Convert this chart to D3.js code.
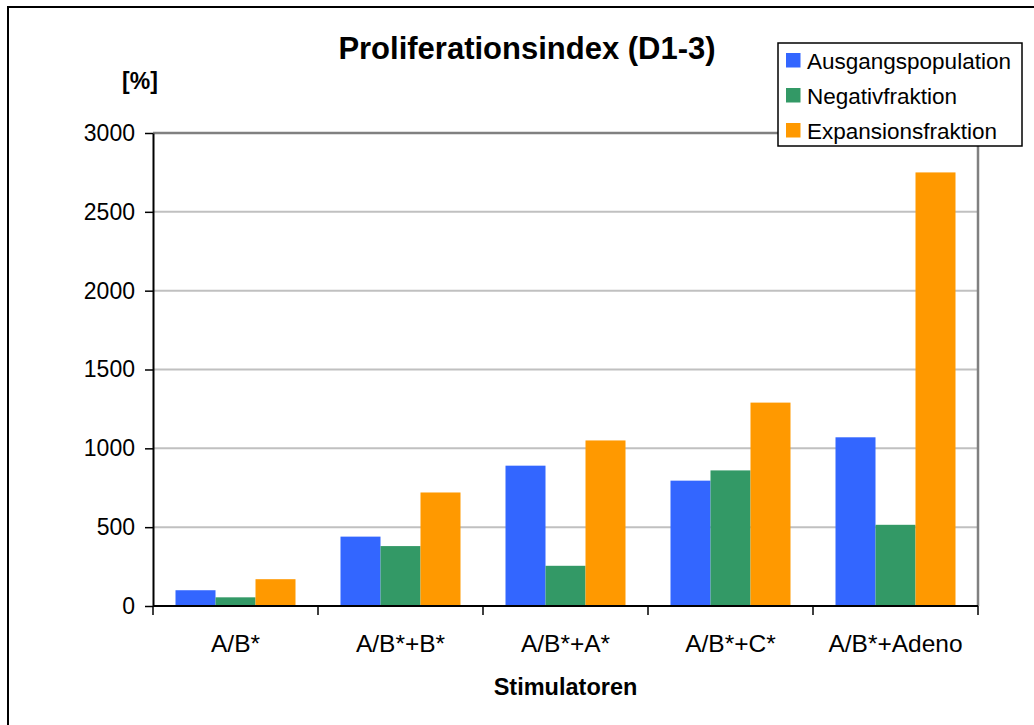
<!DOCTYPE html>
<meta charset="utf-8">
<script src="https://d3js.org/d3.v7.min.js"></script>
<style>
  body { margin: 0; background: #fff; }
  text { font-family: "Liberation Sans", Arial, sans-serif; fill: #000; }
</style>
<div id="my_dataviz"></div>
<script>

// data
var categories = ["A/B*", "A/B*+B*", "A/B*+A*", "A/B*+C*", "A/B*+Adeno"];
var seriesNames = ["Ausgangspopulation", "Negativfraktion", "Expansionsfraktion"];
var ausgangspopulation = [100, 440, 890, 795, 1070];
var negativfraktion = [55, 380, 255, 860, 515];
var expansionsfraktion = [170, 720, 1050, 1290, 2750];
var yTicks = [0, 500, 1000, 1500, 2000, 2500, 3000];
var colors = ["#3366FF", "#339966", "#FF9900"];

var series = [ausgangspopulation, negativfraktion, expansionsfraktion];

var W = 1034, H = 725;
var margin = {top: 133, right: 56, bottom: 119, left: 153},
    width = W - margin.left - margin.right,
    height = H - margin.top - margin.bottom;

var svg = d3.select("#my_dataviz")
  .append("svg")
    .attr("width", W)
    .attr("height", H);

// outer chart border (only left and top visible)
svg.append("rect")
  .attr("x", 8).attr("y", 7)
  .attr("width", W + 20).attr("height", H + 20)
  .attr("fill", "none")
  .attr("stroke", "#000")
  .attr("stroke-width", 2);

var g = svg.append("g")
  .attr("transform", "translate(" + margin.left + "," + margin.top + ")");

var x = d3.scaleBand()
  .domain(categories)
  .range([0, width]);

var inner = 22.5;
var xs = d3.scaleBand()
  .domain(d3.range(series.length))
  .range([inner, x.bandwidth() - inner]);

var y = d3.scaleLinear()
  .domain([0, 3000])
  .range([height, 0]);

// gridlines
g.append("g")
  .selectAll("line")
  .data(yTicks.slice(1, -1))
  .enter()
  .append("line")
    .attr("x1", 0).attr("x2", width)
    .attr("y1", function(d) { return y(d); })
    .attr("y2", function(d) { return y(d); })
    .attr("stroke", "#c0c0c0")
    .attr("stroke-width", 2);

// plot frame top and right (gray)
g.append("path")
  .attr("d", "M0," + y(3000) + "H" + width + "V" + height)
  .attr("fill", "none")
  .attr("stroke", "#808080")
  .attr("stroke-width", 2.5);

// bars
series.forEach(function(vals, i) {
  g.append("g")
    .selectAll("rect")
    .data(vals)
    .enter()
    .append("rect")
      .attr("x", function(d, j) { return x(categories[j]) + xs(i); })
      .attr("y", function(d) { return y(d); })
      .attr("width", xs.bandwidth())
      .attr("height", function(d) { return height - y(d); })
      .attr("fill", colors[i]);
});

// Y axis
var yAxis = g.append("g")
  .call(d3.axisLeft(y).tickValues(yTicks).tickFormat(d3.format("d"))
    .tickSize(8).tickSizeOuter(0).tickPadding(10));
yAxis.select(".domain").attr("stroke", "#000").attr("stroke-width", 2);
yAxis.selectAll(".tick line").attr("stroke", "#000").attr("stroke-width", 1.5);
yAxis.selectAll(".tick text")
  .style("font-family", "'Liberation Sans', Arial, sans-serif")
  .style("font-size", "23px")
  .attr("fill", "#000");

// X axis with ticks at category boundaries
var xAxisG = g.append("g").attr("transform", "translate(0," + height + ")");
xAxisG.append("line")
  .attr("x1", 0).attr("x2", width)
  .attr("stroke", "#000").attr("stroke-width", 2);
xAxisG.selectAll(".xtick")
  .data(d3.range(categories.length + 1))
  .enter()
  .append("line")
    .attr("x1", function(d) { return d * x.step(); })
    .attr("x2", function(d) { return d * x.step(); })
    .attr("y1", 0).attr("y2", 9)
    .attr("stroke", "#000").attr("stroke-width", 1.5);
xAxisG.selectAll(".xlab")
  .data(categories)
  .enter()
  .append("text")
    .attr("x", function(d) { return x(d) + x.bandwidth() / 2; })
    .attr("y", 46)
    .attr("text-anchor", "middle")
    .style("font-size", "24.5px")
    .text(function(d) { return d; });

// titles
svg.append("text")
  .attr("x", 527).attr("y", 59)
  .attr("text-anchor", "middle")
  .style("font-size", "31px").style("font-weight", "bold")
  .text("Proliferationsindex (D1-3)");

svg.append("text")
  .attr("x", 140).attr("y", 89)
  .attr("text-anchor", "middle")
  .style("font-size", "23px").style("font-weight", "bold")
  .text("[%]");

svg.append("text")
  .attr("x", margin.left + width / 2).attr("y", 695)
  .attr("text-anchor", "middle")
  .style("font-size", "23.5px").style("font-weight", "bold")
  .text("Stimulatoren");

// legend
var legend = svg.append("g").attr("transform", "translate(778,43)");
legend.append("rect")
  .attr("width", 244).attr("height", 103)
  .attr("fill", "#fff").attr("stroke", "#000").attr("stroke-width", 1.5);
var items = legend.selectAll(".item")
  .data(seriesNames)
  .enter()
  .append("g")
    .attr("transform", function(d, i) { return "translate(8," + (10 + i * 35) + ")"; });
items.append("rect")
  .attr("width", 14.5).attr("height", 14.5)
  .attr("fill", function(d, i) { return colors[i]; });
items.append("text")
  .attr("x", 21).attr("y", 15.5)
  .style("font-size", "22.5px")
  .text(function(d) { return d; });

</script>
